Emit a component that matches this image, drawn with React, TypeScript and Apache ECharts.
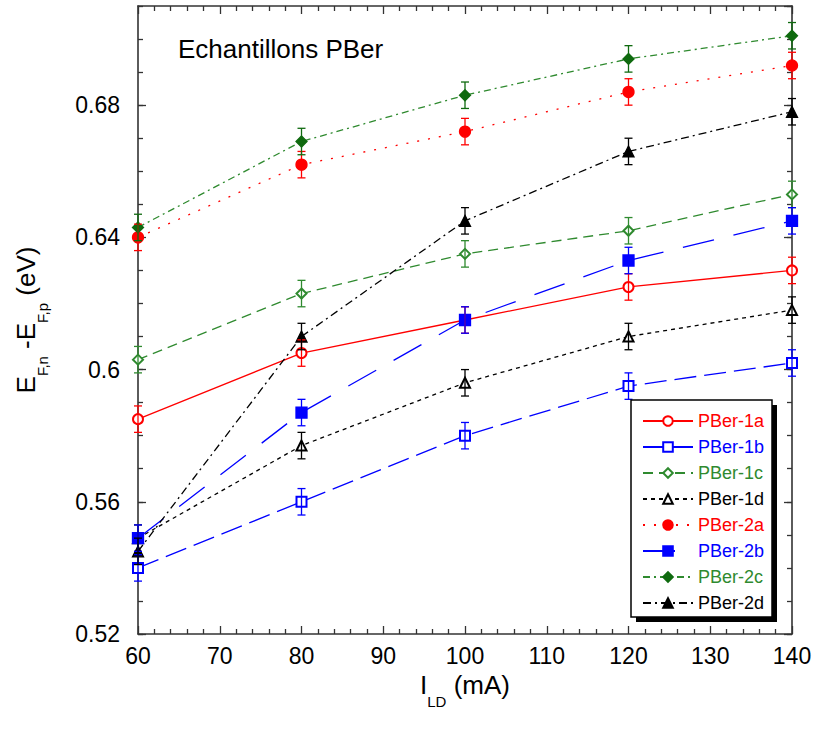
import React, { useEffect, useRef } from "react";
import * as echarts from "echarts";

const FONT = "Liberation Sans, Arial, sans-serif";

const currents = [60, 80, 100, 120, 140];
const seriesNames = ["PBer-1a", "PBer-1b", "PBer-1c", "PBer-1d", "PBer-2a", "PBer-2b", "PBer-2c", "PBer-2d"];

const pber1a = [0.585, 0.605, 0.615, 0.625, 0.630];
const pber1b = [0.540, 0.560, 0.580, 0.595, 0.602];
const pber1c = [0.603, 0.623, 0.635, 0.642, 0.653];
const pber1d = [0.549, 0.577, 0.596, 0.610, 0.618];
const pber2a = [0.640, 0.662, 0.672, 0.684, 0.692];
const pber2b = [0.549, 0.587, 0.615, 0.633, 0.645];
const pber2c = [0.643, 0.669, 0.683, 0.694, 0.701];
const pber2d = [0.545, 0.610, 0.645, 0.666, 0.678];

const errorBars = [0.004, 0.004, 0.004, 0.004, 0.004];

const yTickLabels = ["0.52", "0.56", "0.6", "0.64", "0.68"];

const RED = "#ff0000";
const BLUE = "#0000ff";
const GREEN = "#2f8a2f";
const DKGREEN = "#0f6a0f";
const BLACK = "#000000";

const styles = [
  { values: pber1a, color: RED, markColor: RED, symbol: "emptyCircle", size: 10, dash: "solid" as any },
  { values: pber1b, color: BLUE, markColor: BLUE, symbol: "emptyRect", size: 10, dash: [22, 8] },
  { values: pber1c, color: GREEN, markColor: GREEN, symbol: "emptyDiamond", size: 10, dash: [10, 6] },
  { values: pber1d, color: BLACK, markColor: BLACK, symbol: "emptyTriangle", size: 10, dash: [4, 4] },
  { values: pber2a, color: RED, markColor: RED, symbol: "circle", size: 11, dash: [2, 9] },
  { values: pber2b, color: BLUE, markColor: BLUE, symbol: "rect", size: 11, dash: [32, 20] },
  { values: pber2c, color: GREEN, markColor: DKGREEN, symbol: "diamond", size: 11, dash: [7, 4, 2, 4] },
  { values: pber2d, color: BLACK, markColor: BLACK, symbol: "triangle", size: 11, dash: [8, 4, 2, 4] },
];

export default function App() {
  const ref = useRef<HTMLDivElement>(null);
  useEffect(() => {
    if (!ref.current) return;
    const chart = echarts.init(ref.current, undefined, { renderer: "svg" });

    const lineSeries = styles.map((s, i) => ({
      name: seriesNames[i],
      type: "line",
      xAxisIndex: 0,
      yAxisIndex: 0,
      data: currents.map((x, j) => [x, s.values[j]]),
      symbol: s.symbol,
      symbolSize: s.size,
      showSymbol: true,
      lineStyle: { color: s.color, width: 1.3, type: s.dash },
      itemStyle: { color: s.markColor, borderColor: s.markColor, borderWidth: 1.3 },
      z: 2,
    }));

    const errSeries = styles.map((s, i) => ({
      name: "err-" + seriesNames[i],
      type: "custom",
      xAxisIndex: 0,
      yAxisIndex: 0,
      silent: true,
      z: 3,
      data: currents.map((x, j) => [x, s.values[j], errorBars[j]]),
      encode: { x: 0, y: 1 },
      renderItem: (params: any, api: any) => {
        const x = api.value(0);
        const y = api.value(1);
        const e = api.value(2);
        const top = api.coord([x, y + e]);
        const bot = api.coord([x, y - e]);
        const hw = 4;
        const st = { stroke: s.markColor, lineWidth: 1.3 };
        return {
          type: "group",
          children: [
            { type: "line", shape: { x1: top[0], y1: top[1], x2: bot[0], y2: bot[1] }, style: st },
            { type: "line", shape: { x1: top[0] - hw, y1: top[1], x2: top[0] + hw, y2: top[1] }, style: st },
            { type: "line", shape: { x1: bot[0] - hw, y1: bot[1], x2: bot[0] + hw, y2: bot[1] }, style: st },
          ],
        };
      },
    }));

    const axisLine = { show: true, lineStyle: { color: "#333", width: 1.6 } };
    const tickStyle = { color: "#333", width: 1.3 };

    const option: any = {
      animation: false,
      backgroundColor: "#fff",
      textStyle: { fontFamily: FONT },
      grid: { left: 138, right: 22, top: 6, bottom: 99, outerBoundsMode: "none" },
      xAxis: [
        {
          type: "value", min: 60, max: 140, interval: 10, position: "bottom",
          axisLine,
          axisTick: { show: true, inside: true, length: 8, lineStyle: tickStyle },
          minorTick: { show: true, splitNumber: 5, length: 5, lineStyle: tickStyle },
          splitLine: { show: false },
          axisLabel: { color: "#000", fontSize: 23, fontFamily: FONT, margin: 10 },
          name: "{m|I}{s|LD}{m| (mA)}",
          nameLocation: "middle",
          nameGap: 31,
          nameTextStyle: {
            rich: {
              m: { fontSize: 26, fontFamily: FONT, color: "#000", lineHeight: 30, verticalAlign: "top" },
              s: { fontSize: 15, fontFamily: FONT, color: "#000", padding: [22, 0, 0, 0], verticalAlign: "top" },
            },
          },
        },
        {
          type: "value", min: 60, max: 140, interval: 10, position: "top",
          axisLine,
          axisTick: { show: true, inside: true, length: 8, lineStyle: tickStyle },
          minorTick: { show: true, splitNumber: 5, length: 5, lineStyle: tickStyle },
          splitLine: { show: false },
          axisLabel: { show: false },
        },
      ],
      yAxis: [
        {
          type: "value", min: 0.52, max: 0.71, interval: 0.04, position: "left",
          axisLine,
          axisTick: { show: true, inside: true, length: 8, lineStyle: tickStyle },
          splitLine: { show: false },
          axisLabel: {
            color: "#000", fontSize: 23, fontFamily: FONT, margin: 18, showMaxLabel: false,
            formatter: (v: number) => {
              const k = Math.round((v - 0.52) / 0.04);
              return yTickLabels[k] ?? "";
            },
          },
          name: "{m|E}{s|F,n}{m| -E}{s|F,p}{m| (eV)}",
          nameLocation: "middle",
          nameGap: 88,
          nameTextStyle: {
            rich: {
              m: { fontSize: 26, fontFamily: FONT, color: "#000", lineHeight: 30, verticalAlign: "top" },
              s: { fontSize: 15, fontFamily: FONT, color: "#000", padding: [22, 0, 0, 0], verticalAlign: "top" },
            },
          },
        },
        {
          type: "value", min: 0.52, max: 0.71, interval: 0.01, position: "left",
          axisLine: { show: false },
          axisTick: { show: true, inside: true, length: 5, lineStyle: tickStyle },
          splitLine: { show: false },
          axisLabel: { show: false },
        },
        {
          type: "value", min: 0.52, max: 0.71, interval: 0.04, position: "right",
          axisLine,
          axisTick: { show: true, inside: true, length: 8, lineStyle: tickStyle },
          splitLine: { show: false },
          axisLabel: { show: false },
        },
        {
          type: "value", min: 0.52, max: 0.71, interval: 0.01, position: "right",
          axisLine: { show: false },
          axisTick: { show: true, inside: true, length: 5, lineStyle: tickStyle },
          splitLine: { show: false },
          axisLabel: { show: false },
        },
      ],
      legend: {
        orient: "vertical",
        left: 642,
        top: 411,
        itemWidth: 50,
        itemHeight: 12,
        itemGap: 6,
        padding: 0,
        z: 12,
        textStyle: { fontSize: 18, lineHeight: 20, fontFamily: FONT },
        data: styles.map((s, i) => ({ name: seriesNames[i], textStyle: { color: s.color } })),
      },
      graphic: [
        { type: "rect", z: 10, shape: { x: 636, y: 405, width: 141, height: 217 }, style: { fill: "#000" } },
        { type: "rect", z: 10, shape: { x: 631, y: 400, width: 141, height: 217 }, style: { fill: "#fff", stroke: "#000", lineWidth: 1.5 } },
        {
          type: "text", z: 10, x: 178, y: 49,
          style: { text: "Echantillons PBer", fontSize: 26, fontFamily: FONT, fill: "#000", verticalAlign: "middle", align: "left" },
        },
      ],
      series: [...lineSeries, ...errSeries],
    };

    chart.setOption(option);
    return () => chart.dispose();
  }, []);

  return (
    <div
      ref={ref}
      style={{ position: "fixed", left: 0, top: 0, width: 814, height: 733, background: "#fff" }}
    />
  );
}
